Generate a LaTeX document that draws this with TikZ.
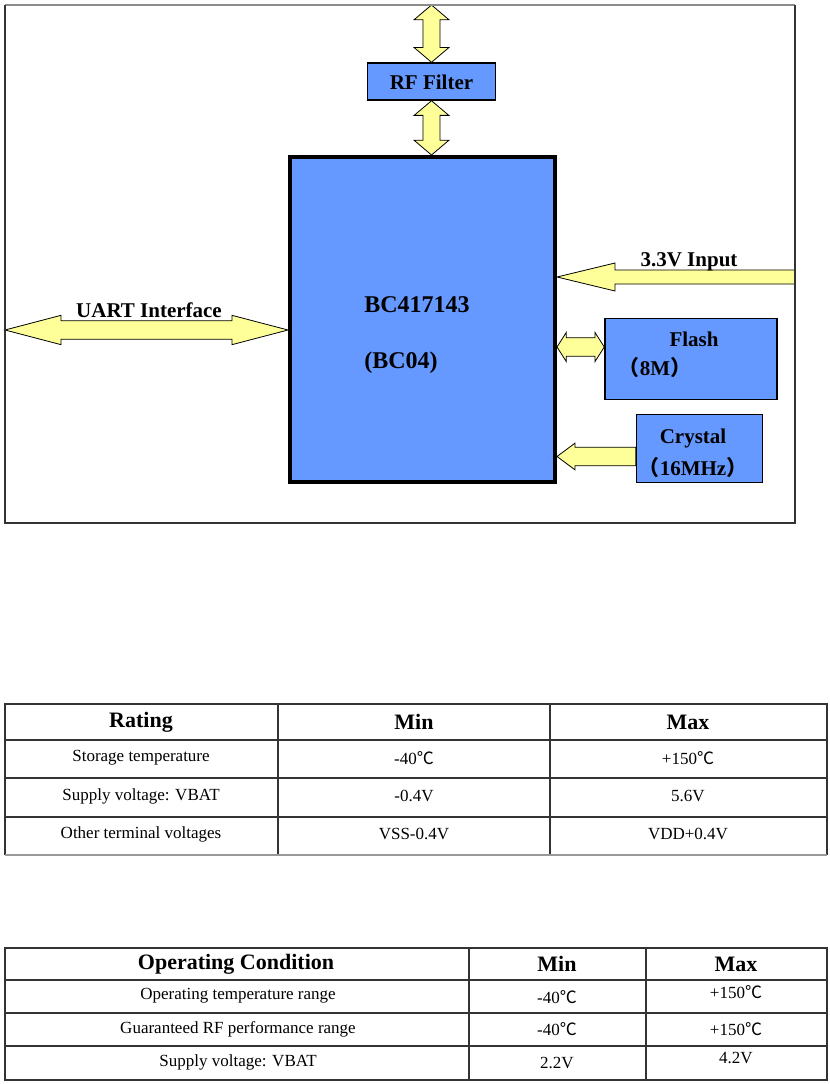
\documentclass[tikz,border=0pt]{standalone}
\usepackage{fontspec}
\setmainfont{Liberation Serif}
\newfontfamily\cjk{Noto Sans CJK SC}
\usetikzlibrary{calc}

\definecolor{chipblue}{RGB}{102,153,255}
\definecolor{arrowyellow}{RGB}{255,255,153}

% fat arrow with a head on both ends: from, to, shaft half, head half, head length
\newcommand{\dblarrow}[5]{%
  \filldraw[blockarrow] (#1)
    -- ($(#1)!#5!(#2)!#4!90:(#2)$) -- ($(#1)!#5!(#2)!#3!90:(#2)$)
    -- ($(#2)!#5!(#1)!#3!-90:(#1)$) -- ($(#2)!#5!(#1)!#4!-90:(#1)$)
    -- (#2)
    -- ($(#2)!#5!(#1)!#4!90:(#1)$) -- ($(#2)!#5!(#1)!#3!90:(#1)$)
    -- ($(#1)!#5!(#2)!#3!-90:(#2)$) -- ($(#1)!#5!(#2)!#4!-90:(#2)$)
    -- cycle;}
% fat arrow with one head: tail, tip, shaft half, head half, head length
\newcommand{\sglarrow}[5]{%
  \filldraw[blockarrow] ($(#1)!#3!90:(#2)$)
    -- ($(#2)!#5!(#1)!#3!-90:(#1)$) -- ($(#2)!#5!(#1)!#4!-90:(#1)$)
    -- (#2)
    -- ($(#2)!#5!(#1)!#4!90:(#1)$) -- ($(#2)!#5!(#1)!#3!90:(#1)$)
    -- ($(#1)!#3!-90:(#2)$) -- cycle;}

\begin{document}
\begin{tikzpicture}[x=0.75pt, y=-0.75pt,
    blk/.style={draw, fill=chipblue, line width=1.1pt, inner sep=0pt},
    blockarrow/.style={fill=arrowyellow, draw=black, line width=0.6pt},
    lbl/.style={font=\bfseries\fontsize{15.75pt}{19pt}\selectfont, inner sep=0pt},
    big/.style={font=\bfseries\fontsize{18pt}{22pt}\selectfont, inner sep=0pt},
    rule/.style={draw=black!80, line width=1.1pt},
    th/.style={font=\bfseries\fontsize{16.5pt}{20pt}\selectfont},
    td/.style={font=\fontsize{12.75pt}{15pt}\selectfont}]
  \useasboundingbox (0,0) rectangle (830,1084);

  % block diagram
  \coordinate (frameNW) at (5,5);
  \coordinate (frameSE) at (795,523);
  \node[blk, minimum width=96pt, minimum height=27.75pt] (rf) at (431.5,81.5) {};
  \node[lbl, anchor=base] (rflbl) at (431.5,90) {RF Filter};
  \node[blk, line width=3pt, minimum width=198.75pt, minimum height=243.75pt] (chip) at (422.5,319.5) {};
  \node[big, anchor=base west] (chipname) at (364,312) {BC417143};
  \node[big, anchor=base west] (chipsub) at (364,368) {(BC04)};
  \node[blk, minimum width=129pt, minimum height=60.75pt] (flash) at (691,359) {};
  \node[lbl, anchor=base] (flashlbl) at (694,346) {Flash};
  \node[lbl, anchor=base] (flashsize) at (655,375) {{\cjk （}8M{\cjk ）}};
  \node[blk, minimum width=94.5pt, minimum height=51pt] (crystal) at (699.5,448.5) {};
  \node[lbl, anchor=base] (xtallbl) at (693,443) {Crystal};
  \node[lbl, anchor=base] (xtalfreq) at (693,475) {{\cjk （}16MHz{\cjk ）}};

  \coordinate (antenna) at (rf.north |- frameNW);
  \coordinate (chiptop) at (rf.south |- chip.north);
  \coordinate (uartend) at (5,330);
  \coordinate (chipuart) at (chip.west |- uartend);
  \coordinate (pwrend) at (795,277);
  \coordinate (chippwr) at (chip.east |- pwrend);
  \coordinate (flashin) at ($(flash.west)+(0,-12)$);
  \coordinate (chipflash) at (chip.east |- flashin);
  \coordinate (xtalout) at ($(crystal.west)+(0,8)$);
  \coordinate (chipxtal) at (chip.east |- xtalout);

  \dblarrow{antenna}{rf.north}{6.4pt}{13pt}{11pt}
  \dblarrow{rf.south}{chiptop}{6.4pt}{13pt}{11pt}
  \dblarrow{uartend}{chipuart}{7pt}{11pt}{42pt}
  \sglarrow{pwrend}{chippwr}{5.25pt}{10.5pt}{43.5pt}
  \dblarrow{chipflash}{flashin}{7pt}{11pt}{7pt}
  \sglarrow{xtalout}{chipxtal}{7pt}{10pt}{13.5pt}
  \node[lbl, anchor=base] (uartlbl) at (149,317) {UART Interface};
  \node[lbl, anchor=base] (pwrlbl) at (689,267) {3.3V Input};

  \draw[draw=black!45, line width=1pt] (frameNW) -- (frameNW -| frameSE);
  \draw[draw=black!80, line width=1pt] (frameNW) -- (frameNW |- frameSE) -- (frameSE) -- (frameSE |- frameNW);

  % absolute maximum ratings
  \draw[rule] (5,855) -- (5,704) -- (827,704) -- (827,855);
  \draw[rule] (5,740) -- (827,740) (5,778) -- (827,778) (5,817) -- (827,817);
  \draw[rule] (278,704) -- (278,855) (550,704) -- (550,855);
  \draw[draw=black!40, line width=1pt] (5,855) -- (827,855);
  \node[th] (rating) at (141,722) {Rating};
  \node[th] (minA) at (414,722) {Min};
  \node[th] (maxA) at (688,722) {Max};
  \node[td] (storage) at (141,758) {Storage temperature};
  \node[td] (storemin) at (414,758) {-40{\cjk ℃}};
  \node[td] (storemax) at (688,758) {+150{\cjk ℃}};
  \node[td] (vbatA) at (141,796) {Supply voltage: VBAT};
  \node[td] (vbatminA) at (414,796) {-0.4V};
  \node[td] (vbatmaxA) at (688,796) {5.6V};
  \node[td] (other) at (141,834) {Other terminal voltages};
  \node[td] (othermin) at (414,834) {VSS-0.4V};
  \node[td] (othermax) at (688,834) {VDD+0.4V};

  % operating conditions
  \draw[rule] (5,948) rectangle (827,1080);
  \draw[rule] (5,980) -- (827,980) (5,1013) -- (827,1013) (5,1046) -- (827,1046);
  \draw[rule] (469,948) -- (469,1080) (646,948) -- (646,1080);
  \node[th] (opcond) at (236,964) {Operating Condition};
  \node[th] (minB) at (557,964) {Min};
  \node[th] (maxB) at (736,964) {Max};
  \node[td] (optemp) at (238,996) {Operating temperature range};
  \node[td] (optempmin) at (557,997) {-40{\cjk ℃}};
  \node[td] (optempmax) at (736,992) {+150{\cjk ℃}};
  \node[td] (rfrange) at (238,1029) {Guaranteed RF performance range};
  \node[td] (rfmin) at (557,1029) {-40{\cjk ℃}};
  \node[td] (rfmax) at (736,1029) {+150{\cjk ℃}};
  \node[td] (vbatB) at (238,1062) {Supply voltage: VBAT};
  \node[td] (vbatminB) at (557,1063) {2.2V};
  \node[td] (vbatmaxB) at (736,1058) {4.2V};
\end{tikzpicture}
\end{document}
